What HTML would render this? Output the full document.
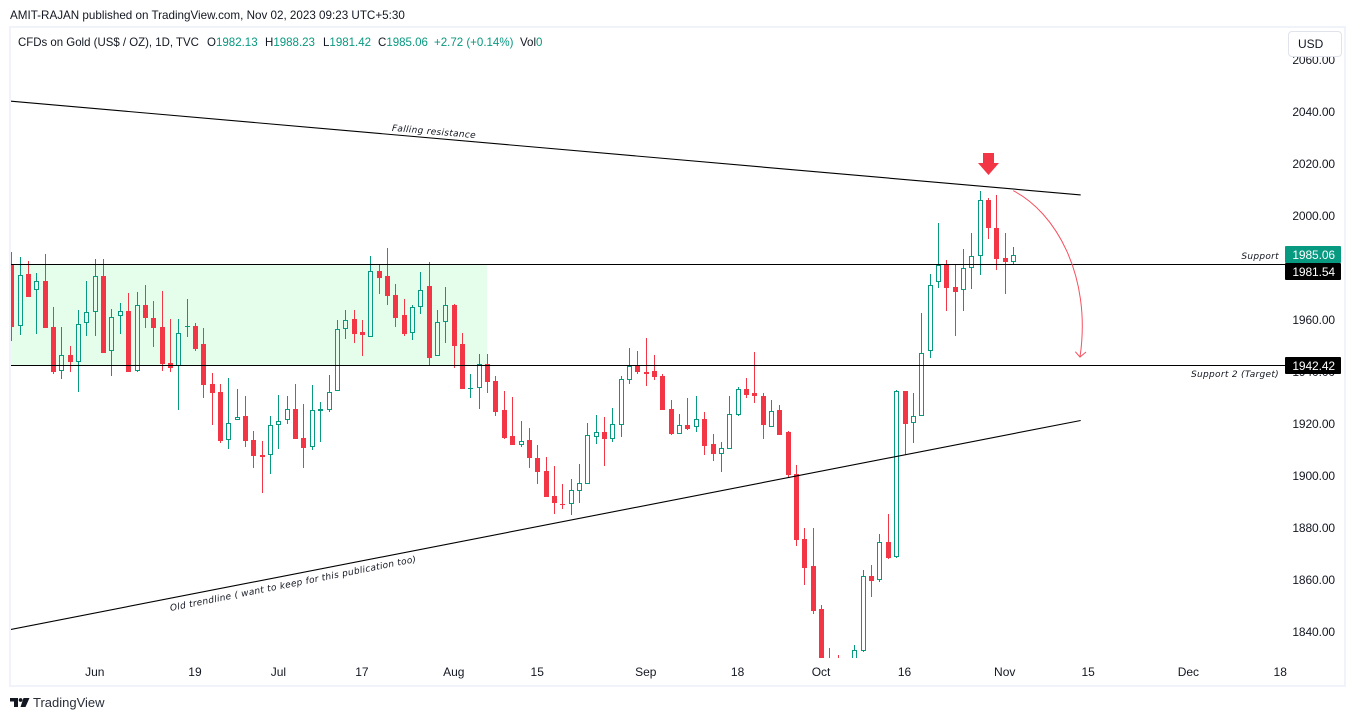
<!DOCTYPE html>
<html lang="en">
<head>
<meta charset="utf-8">
<title>CFDs on Gold chart</title>
<style>
html,body{margin:0;padding:0;background:#fff;}
body{width:1355px;height:721px;overflow:hidden;position:relative;font-family:"Liberation Sans",sans-serif;color:#131722;}
svg{position:absolute;left:0;top:0;}
.hdr{position:absolute;white-space:nowrap;font-size:12px;line-height:14px;color:#131722;transform-origin:0 50%;transform:scaleX(.96);}
.g{color:#089981;}
#usd{position:absolute;left:1288px;top:31px;width:52px;height:24px;border:1px solid #e0e3eb;border-radius:4px;background:#fff;font-size:12px;line-height:25px;text-indent:9px;}
#brand{position:absolute;left:33px;top:695px;font-size:13px;line-height:16px;color:#2a2e39;}
</style>
</head>
<body>
<svg id="chart" width="1355" height="721" viewBox="0 0 1355 721">
  <defs><clipPath id="pane"><rect x="11" y="28" width="1274" height="630"/></clipPath></defs>
  <rect x="10" y="27" width="1335" height="659" fill="none" stroke="#f0f3fa" stroke-width="2"/>
  <g id="zoneLayer" clip-path="url(#pane)"></g>
  <g id="candles" clip-path="url(#pane)"></g>
  <g id="drawings" clip-path="url(#pane)"></g>
  <path d="M1013.3 190.7C1055 212 1092 275 1080 357" fill="none" stroke="#f5505f" stroke-width="1"/>
  <path d="M1075.3 351.7L1080 357L1086 352" fill="none" stroke="#f5505f" stroke-width="1"/>
  <polygon points="983,153 994,153 994,163 999,163 988.5,175 978,163 983,163" fill="#f23645"/>
  <g font-family="'DejaVu Sans',sans-serif" font-style="italic" font-size="9" fill="#131722" letter-spacing="0.3">
    <text x="434" y="134.5" text-anchor="middle" transform="rotate(5 434 131)">Falling resistance</text>
    <text x="293" y="586.5" text-anchor="middle" transform="rotate(-11.3 293 583)">Old trendline ( want to keep for this publication too)</text>
    <text x="1279" y="259" text-anchor="end">Support</text>
    <text x="1279" y="377" text-anchor="end">Support 2 (Target)</text>
  </g>
  <g id="priceAxis" font-size="12" fill="#131722" letter-spacing="-0.1"></g>
  <g id="timeAxis" font-size="12" fill="#131722"></g>
  <g id="tags" font-size="12" letter-spacing="-0.1"></g>
  <g fill="#131722">
    <path d="M10 698H18V707H14V701.5H10Z"/>
    <circle cx="20.6" cy="700" r="1.9"/>
    <path d="M23.5 698H29.5L25.5 707H20.5Z"/>
  </g>
</svg>
<div class="hdr" style="left:10px;top:8px;transform:scaleX(.97)">AMIT-RAJAN published on TradingView.com, Nov 02, 2023 09:23 UTC+5:30</div>
<div class="hdr" style="left:18px;top:35px;transform:scaleX(.953)">CFDs on Gold (US$ / OZ), 1D, TVC</div>
<div class="hdr" style="left:207px;top:35px">O<span class="g">1982.13</span></div>
<div class="hdr" style="left:265px;top:35px">H<span class="g">1988.23</span></div>
<div class="hdr" style="left:322.5px;top:35px">L<span class="g">1981.42</span></div>
<div class="hdr" style="left:377.5px;top:35px">C<span class="g">1985.06</span></div>
<div class="hdr g" style="left:434px;top:35px">+2.72 (+0.14%)</div>
<div class="hdr" style="left:520px;top:35px">Vol<span class="g">0</span></div>
<div id="usd">USD</div>
<div id="brand">TradingView</div>
<script>
const opens = [
1981.5,1957.8,1977.7,1971.4,1975.0,1957.3,1940.3,1946.6,1944.0,1958.7,
1963.0,1977.0,1948.0,1961.4,1963.5,1940.3,1965.8,1960.8,1957.3,1943.5,
1942.2,1957.5,1957.7,1950.8,1935.4,1932.3,1913.7,1921.4,1923.1,1913.9,
1908.1,1908.2,1919.5,1921.4,1925.8,1914.6,1911.1,1925.0,1925.2,1932.6,
1956.4,1960.4,1955.4,1953.6,1978.9,1977.0,1969.6,1962.0,1954.9,1964.9,
1973.1,1946.0,1959.1,1965.8,1950.8,1933.7,1933.7,1943.1,1936.5,1925.4,
1915.4,1912.1,1913.8,1906.9,1901.9,1892.3,1889.2,1889.4,1894.4,1897.1,
1915.1,1916.9,1914.4,1919.7,1937.1,1942.6,1940.0,1940.4,1938.5,1925.8,
1916.3,1919.6,1919.0,1921.9,1912.3,1908.6,1910.5,1923.5,1933.5,1931.9,
1930.8,1919.0,1925.4,1916.9,1900.8,1875.8,1865.4,1848.8,1828,1826,
1820,1822,1832.6,1861.5,1860.1,1874.6,1868.7,1932.7,1920.3,1922.9,
1947.9,1974.5,1981.6,1972.7,1971.4,1979.9,1984.5,2006.2,1995.4,1983.8,
1982.13];
const highs = [
1986.2,1984.2,1982.7,1978.1,1985.4,1965.0,1957.3,1950.0,1963.9,1975.0,
1983.5,1983.5,1964.2,1966.6,1970.4,1970.8,1973.5,1967.3,1971.2,1960.4,
1960.4,1968.1,1958.9,1957.0,1939.6,1935.4,1937.7,1933.5,1930.8,1917.3,
1913.5,1923.1,1931.2,1930.8,1935.4,1927.7,1935.0,1928.5,1938.9,1960.0,
1963.9,1963.9,1960.0,1984.6,1981.6,1987.7,1973.9,1968.1,1965.8,1978.5,
1982.3,1963.9,1972.7,1966.2,1955.0,1939.2,1946.9,1946.9,1938.5,1932.7,
1930.4,1921.2,1918.5,1911.9,1907.3,1903.8,1896.9,1898.8,1904.6,1920.4,
1923.5,1922.7,1926.2,1938.5,1949.2,1948.1,1953.1,1946.5,1939.2,1929.2,
1923.8,1930.0,1930.8,1924.6,1916.2,1913.1,1930.8,1934.2,1937.7,1947.7,
1931.9,1929.2,1927.3,1917.3,1904.2,1880.0,1880.0,1850.4,1833.8,1831.2,
1829,1835.0,1863.8,1865.8,1877.7,1885.4,1933.1,1932.7,1931.9,1962.7,
1977.7,1997.3,1983.1,1981.5,1987.3,1993.5,2009.6,2006.9,2008.1,1993.5,
1988.23];
const lows = [
1952.1,1954.2,1969.0,1954.6,1957.1,1939.2,1937.3,1940.0,1932.3,1953.9,
1953.9,1947.3,1938.5,1954.6,1940.0,1940.0,1957.0,1949.6,1940.4,1940.0,
1925.4,1953.5,1948.1,1930.0,1919.6,1912.7,1910.4,1921.4,1911.2,1903.1,
1893.5,1900.8,1910.4,1920.0,1914.3,1903.1,1910.0,1913.1,1924.6,1932.6,
1952.7,1951.2,1946.2,1953.6,1970.0,1965.8,1957.3,1953.9,1952.3,1962.3,
1942.3,1946.0,1951.2,1941.6,1933.5,1930.0,1925.8,1932.0,1923.1,1914.2,
1911.9,1911.2,1903.1,1896.9,1891.9,1885.4,1887.3,1885.0,1889.6,1897.1,
1912.3,1903.8,1913.1,1915.0,1935.4,1939.2,1934.6,1936.9,1925.4,1915.8,
1916.2,1917.7,1916.9,1908.1,1905.8,1901.5,1910.4,1923.1,1930.0,1928.1,
1914.2,1919.0,1915.8,1899.2,1873.1,1858.1,1846.9,1820,1818,1815,
1815,1818,1832.4,1853.5,1859.2,1868.1,1868.5,1908.1,1912.7,1922.9,
1945.4,1972.3,1963.5,1953.8,1963.5,1971.9,1977.3,1991.2,1979.2,1970.0,
1981.42];
const closes = [
1957.4,1977.3,1969.0,1974.9,1957.1,1940.1,1946.4,1944.0,1958.4,1963.0,
1976.8,1947.3,1961.0,1963.4,1940.0,1965.7,1960.8,1957.0,1943.1,1941.6,
1954.9,1957.6,1948.9,1935.0,1931.9,1913.5,1920.3,1922.6,1913.5,1907.7,
1907.3,1919.5,1921.1,1925.7,1914.3,1910.8,1925.3,1925.8,1932.2,1956.4,
1959.9,1954.6,1954.3,1978.7,1976.2,1969.3,1960.8,1954.6,1964.9,1971.4,
1945.4,1959.1,1965.7,1950.0,1933.5,1933.9,1943.0,1936.2,1924.6,1914.6,
1911.9,1913.3,1906.9,1901.5,1891.9,1889.6,1889.0,1894.5,1897.2,1915.6,
1916.8,1914.2,1919.9,1937.2,1942.3,1940.0,1939.2,1938.1,1925.4,1916.2,
1919.5,1918.1,1921.8,1911.5,1908.5,1910.6,1923.7,1933.3,1931.2,1930.8,
1919.6,1924.9,1915.8,1900.4,1875.4,1864.6,1848.1,1825,1823,1820,
1826,1832.9,1861.4,1859.6,1874.5,1868.5,1932.6,1920.1,1922.9,1947.2,
1973.3,1981.0,1972.3,1970.8,1979.9,1984.5,2006.0,1995.4,1983.5,1982.3,
1985.06];
const priceTicks = [2060,2040,2020,2000,1960,1940,1920,1900,1880,1860,1840];
const timeLabels = ["Jun","19","Jul","17","Aug","15","Sep","18","Oct","16","Nov","15","Dec","18"];
const timeBars = [10,22,32,42,53,63,76,87,97,107,119,129,141,152];
const supportLevels = [1981.54,1942.42];
const zoneBars = [-0.2,57];
const fallingLineBars = [-0.2,128.1];
const fallingLinePrices = [2044.2,2008.1];
const oldLineBars = [-0.2,128.1];
const oldLinePrices = [1840.9,1921.35];

const UP = '#089981', DOWN = '#f23645';
const NS = 'http://www.w3.org/2000/svg';
function xAt(i){ return 11.3 + 8.348 * i; }
function yAt(p){ return 112 + (2040 - p) * 2.6; }
function levelRow(p){ return Math.floor(yAt(p) + 0.2); }
function make(tag, attrs, parent){
  const n = document.createElementNS(NS, tag);
  for (const k in attrs) n.setAttribute(k, attrs[k]);
  parent.appendChild(n);
  return n;
}
const candleLayer = document.getElementById('candles');
for (let i = 0; i < closes.length; i++) {
  const px = Math.round(xAt(i));
  const up = closes[i] >= opens[i];
  const col = up ? UP : DOWN;
  const g = make('g', {}, candleLayer);
  
  
  const yH = Math.round(yAt(highs[i])), yL = Math.round(yAt(lows[i]));
  const top = Math.round(yAt(Math.max(opens[i], closes[i])));
  const bot = Math.round(yAt(Math.min(opens[i], closes[i])));
  const h = Math.max(1, bot - top);
  if (up && h > 2) {
    make('rect', {x: px, y: yH, width: 1, height: Math.max(0, top - yH), fill: col}, g);
    make('rect', {x: px, y: bot, width: 1, height: Math.max(0, yL - bot), fill: col}, g);
    make('rect', {x: px - 1.5, y: top + 0.5, width: 4, height: h - 1, fill: 'none', stroke: col, 'stroke-width': 1}, g);
  } else {
    make('rect', {x: px, y: yH, width: 1, height: Math.max(1, yL - yH), fill: col}, g);
    make('rect', {x: px - 2, y: top, width: 5, height: h, fill: col}, g);
  }
}
const zoneLayer = document.getElementById('zoneLayer');
const zoneTop = levelRow(supportLevels[0]);
const zoneBottom = levelRow(supportLevels[1]);
const zone = make('rect', {
  x: xAt(zoneBars[0]), y: zoneTop,
  width: xAt(zoneBars[1]) - xAt(zoneBars[0]),
  height: zoneBottom - zoneTop, fill: '#e4feeb'
}, zoneLayer);



const drawings = document.getElementById('drawings');
for (let i = 0; i < supportLevels.length; i++) {
  const yy = levelRow(supportLevels[i]) + 0.5;
  const ln = make('line', {x1: 10, x2: 1285, y1: yy, y2: yy, stroke: '#000', 'stroke-width': 1}, drawings);
  
  
}
const fall = make('line', {x1: xAt(fallingLineBars[0]), y1: yAt(fallingLinePrices[0]), x2: xAt(fallingLineBars[1]), y2: yAt(fallingLinePrices[1]), stroke: '#000', 'stroke-width': 1.1}, drawings);


const old = make('line', {x1: xAt(oldLineBars[0]), y1: yAt(oldLinePrices[0]), x2: xAt(oldLineBars[1]), y2: yAt(oldLinePrices[1]), stroke: '#000', 'stroke-width': 1.1}, drawings);



const priceAxis = document.getElementById('priceAxis');
priceTicks.forEach(function(p){
  const t = make('text', {x: 1335, y: yAt(p) + 4, 'text-anchor': 'end'}, priceAxis);
  
  
  t.textContent = p.toFixed(2);
});
const timeAxis = document.getElementById('timeAxis');
timeLabels.forEach(function(lab, i){
  const t = make('text', {x: xAt(timeBars[i]), y: 676, 'text-anchor': 'middle'}, timeAxis);
  
  
  t.textContent = lab;
});
const tags = document.getElementById('tags');
let lastTagBottom = 0;
function tag(price, color, name){
  const top = Math.max(Math.floor(yAt(price)) - 8, lastTagBottom);
  lastTagBottom = top + 17;
  const r = make('rect', {x: 1285, y: top, width: 56, height: 17, rx: 1, fill: color}, tags);
  
  
  const t = make('text', {x: 1335, y: top + 13, 'text-anchor': 'end', fill: '#fff'}, tags);
  
  
  t.textContent = price.toFixed(2);
}
tag(closes[closes.length - 1], UP, 'last-price-tag');
tag(supportLevels[0], '#000', 'support-price-tag');
tag(supportLevels[1], '#000', 'target-price-tag');
</script>
</body>
</html>
